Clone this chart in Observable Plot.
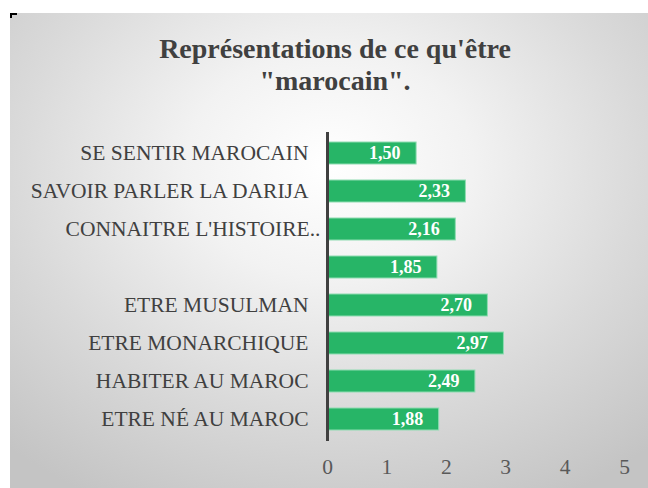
<!DOCTYPE html>
<html>
<head>
<meta charset="utf-8">
<script src="https://cdn.jsdelivr.net/npm/d3@7"></script>
<script src="https://cdn.jsdelivr.net/npm/@observablehq/plot@0.6"></script>
<style>
  html, body { margin: 0; padding: 0; background: #ffffff; }
  #frame {
    position: absolute; left: 10px; top: 13px; width: 638px; height: 475px;
    background: radial-gradient(ellipse 75% 80% at 50% 32%, #ffffff 0%, #f2f2f2 30%, #dadada 65%, #c4c4c4 100%);
    overflow: hidden;
  }
  #corner {
    position: absolute; left: 10px; top: 13px; width: 5px; height: 3px;
    border-left: 2px solid #000; border-top: 2px solid #000;
  }
  #title {
    height: 100px; box-sizing: border-box; padding-top: 20px; padding-left: 12px;
    font-family: "Liberation Serif", "Times New Roman", serif; font-weight: bold;
    font-size: 28px; line-height: 32px; color: #404040; text-align: center;
  }
</style>
</head>
<body>
<div id="frame">
  <div id="title">Représentations de ce qu'être<br>"marocain".</div>
  <div id="chart"></div>
</div>
<div id="corner"></div>
<script>
const categories = [
  "SE SENTIR MAROCAIN",
  "SAVOIR PARLER LA DARIJA",
  "CONNAITRE L'HISTOIRE..",
  "",
  "ETRE MUSULMAN",
  "ETRE MONARCHIQUE",
  "HABITER AU MAROC",
  "ETRE NÉ AU MAROC"
];
const values = [1.50, 2.33, 2.16, 1.85, 2.70, 2.97, 2.49, 1.88];
const xTicks = [0, 1, 2, 3, 4, 5];

const data = categories.map((c, i) => ({category: c, value: values[i]}));
const fmt = v => d3.format(".2f")(v).replace(".", ",");
const serif = '"Liberation Serif", "Times New Roman", serif';
const truncated = categories.filter(c => c.endsWith(".."));
const regular = categories.filter(c => !c.endsWith(".."));

const chart = Plot.plot({
  width: 638,
  height: 370,
  marginTop: 19,
  marginBottom: 42,
  marginLeft: 317,
  marginRight: 24,
  style: {fontFamily: serif, fontSize: "21.5px", background: "transparent", overflow: "visible"},
  x: {domain: [0, 5], ticks: xTicks, tickFormat: d => String(d), label: null},
  y: {domain: categories, paddingInner: 0.41, paddingOuter: 0.205, label: null},
  marks: [
    Plot.barX(data, {x: "value", y: "category", fill: "#27b567", stroke: "#8fdcb2", strokeWidth: 1}),
    Plot.text(data, {x: "value", y: "category", text: d => fmt(d.value), textAnchor: "end", dx: -16,
      fill: "white", fontWeight: "bold", fontSize: 18, fontFamily: serif}),
    Plot.ruleX([0], {stroke: "#404040", strokeWidth: 3}),
    Plot.axisX({ticks: xTicks, tickSize: 0, tickPadding: 17, tickFormat: d => String(d), fill: "#595959",
      fontFamily: serif, fontSize: 21.5, label: null}),
    Plot.axisY({ticks: regular, tickSize: 0, tickPadding: 19, fill: "#404040", fontFamily: serif, fontSize: 21.5, label: null}),
    Plot.axisY({ticks: truncated, tickSize: 0, tickPadding: 19, dx: 12, fill: "#404040", fontFamily: serif, fontSize: 21.5, label: null})
  ]
});
document.getElementById("chart").appendChild(chart);
</script>
</body>
</html>
